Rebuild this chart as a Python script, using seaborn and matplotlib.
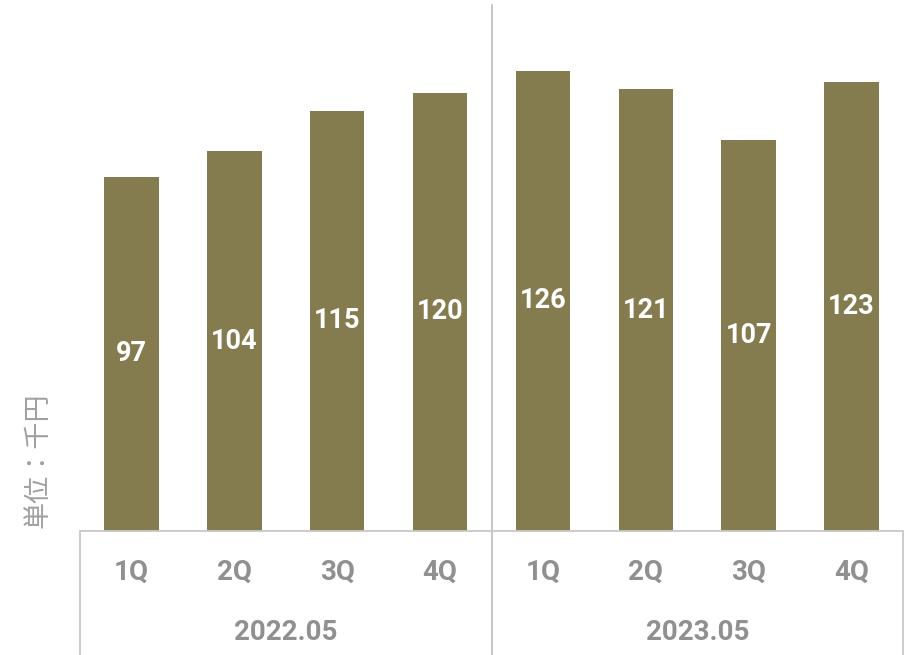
import matplotlib
matplotlib.use("Agg")
import matplotlib.pyplot as plt
import seaborn as sns
import pandas as pd
from matplotlib.transforms import blended_transform_factory

quarters = ["1Q", "2Q", "3Q", "4Q", "1Q", "2Q", "3Q", "4Q"]
years = ["2022.05", "2023.05"]
values = [97, 104, 115, 120, 126, 121, 107, 123]
ylabel = "単位：千円"

sns.set_theme(style="white")
plt.rcParams['font.family'] = ['Roboto', 'Noto Sans CJK JP', 'DejaVu Sans']

df = pd.DataFrame({"pos": [f"{quarters[i]}_{i}" for i in range(len(values))],
                   "value": values})

fig = plt.figure(figsize=(9.13, 6.55), dpi=100)
ax = fig.add_axes([80/913, (655-531)/655, (903-80)/913, (531-5)/655])

bar_color = "#847C4F"
sns.barplot(data=df, x="pos", y="value", color=bar_color, width=0.53,
            saturation=1, ax=ax, edgecolor="none")

ax.set_ylim(0, 144)
ax.set_xlim(-0.5, 7.5)
ax.set_yticks([])
ax.set_xticks([])
ax.set_xlabel("")
ax.set_ylabel("")
for s in ax.spines.values():
    s.set_visible(False)

# value labels
for i, v in enumerate(values):
    ax.text(i, v / 2, str(v), ha="center", va="center", color="white",
            fontsize=19.5, fontweight="bold")

line_c = "#c8c8c8"
trans = blended_transform_factory(ax.transData, ax.transAxes)
ax.plot([-0.5, 7.5], [0, 0], color=line_c, lw=1.3, transform=trans, clip_on=False)
ax.plot([-0.5, -0.5], [0, -0.25], color=line_c, lw=1.3, transform=trans, clip_on=False)
ax.plot([7.5, 7.5], [0, -0.25], color=line_c, lw=1.3, transform=trans, clip_on=False)
ax.plot([3.5, 3.5], [1.0, -0.25], color=line_c, lw=1.5, transform=trans, clip_on=False)

label_c = "#909090"
for i, q in enumerate(quarters):
    ax.text(i, -41 / 526, q, transform=trans, ha="center", va="center",
            color=label_c, fontsize=20, fontweight="bold")
for j, y in enumerate(years):
    ax.text(1.5 + 4 * j, -102 / 526, y, transform=trans, ha="center", va="center",
            color=label_c, fontsize=20, fontweight="bold")

fig.text(38/913, 1 - 460/655, ylabel, rotation=90, ha="center", va="center",
         color="#a0a0a0", fontsize=19.5, family=['Noto Sans CJK JP', 'DejaVu Sans'])

fig.savefig("out.png", dpi=100, facecolor="white")
